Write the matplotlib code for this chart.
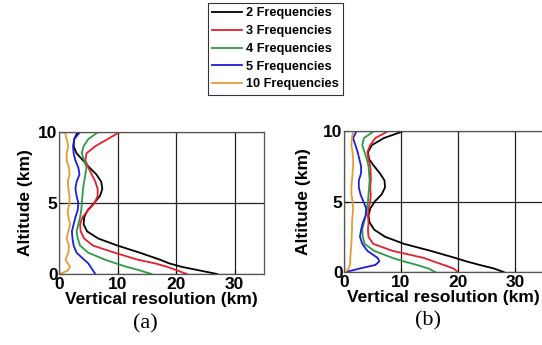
import numpy as np
import matplotlib.pyplot as plt

plt.rcParams['font.family'] = ['Liberation Sans', 'DejaVu Sans']

# altitude levels (km) shared by all curves
altitude = [0, 0.25, 0.5, 0.75, 1, 1.5, 2, 2.5, 3, 3.5, 4, 4.5, 5,
            5.5, 6, 6.5, 7, 7.5, 8, 8.5, 9, 9.5, 10]

labels = ['2 Frequencies', '3 Frequencies', '4 Frequencies',
          '5 Frequencies', '10 Frequencies']
colors = ['#000000', '#e3202b', '#2e9a45', '#1c1ed8', '#e69a3a']

# panel (a) vertical resolution (km)
a_2f = [27, 24, 21, 18.8, 17.3, 13.8, 10.0, 6.7, 4.8, 4.2, 4.3, 4.9, 6.0,
        7.0, 7.4, 7.2, 6.4, 5.2, 4.1, 3.0, 2.5, 2.6, 3.2]
a_3f = [21.8, 20.2, 18.5, 16.4, 13.5, 9.5, 5.8, 4.3, 3.7, 3.6, 4.0, 5.0, 6.1,
        6.6, 6.6, 6.2, 5.6, 5.0, 4.5, 4.7, 6.2, 8.3, 10.4]
a_4f = [15.8, 13.8, 11.6, 9.7, 7.9, 5.0, 3.6, 3.2, 3.0, 3.3, 3.6, 3.8, 3.9,
        4.0, 4.1, 4.3, 4.5, 4.7, 4.3, 3.9, 4.2, 5.0, 6.7]
a_5f = [6.2, 5.8, 5.4, 5.0, 4.3, 3.0, 2.5, 2.3, 2.2, 2.5, 2.8, 3.2, 3.3,
        3.0, 2.8, 3.0, 3.5, 3.3, 2.8, 2.5, 2.4, 2.6, 3.6]
a_10f = [0.2, 1.5, 1.9, 1.5, 1.1, 1.6, 1.7, 1.3, 1.6, 1.9, 1.6, 1.5, 1.8,
         1.8, 1.6, 1.5, 1.8, 1.7, 1.3, 1.3, 1.6, 1.3, 1.0]

# panel (b) vertical resolution (km)
b_2f = [28, 26.3, 23.8, 21.5, 19.5, 15.2, 10.5, 7.2, 5.3, 4.5, 4.3, 4.6, 5.4,
        6.6, 7.2, 7.1, 6.3, 5.3, 4.4, 4.2, 4.9, 7.0, 10.5]
b_3f = [20, 19.2, 17.5, 15.7, 14.0, 8.5, 5.1, 4.3, 4.2, 4.3, 4.2, 4.3, 4.6,
        4.7, 4.6, 4.7, 4.7, 4.6, 4.3, 4.1, 4.6, 5.5, 7.8]
b_4f = [16, 14.8, 12.8, 10.5, 8.5, 5.3, 3.6, 3.3, 3.2, 3.5, 3.8, 4.0, 4.2,
        4.3, 4.4, 4.5, 4.4, 4.3, 4.0, 3.6, 3.2, 3.5, 5.3]
b_5f = [0.3, 2.8, 5.5, 6.2, 5.9, 4.1, 3.2, 2.8, 3.0, 3.3, 3.8, 3.9, 3.4,
        2.9, 2.6, 2.6, 3.0, 3.0, 2.7, 2.4, 2.0, 1.6, 2.2]
b_10f = [0.3, 0.8, 1.05, 1.1, 1.1, 1.2, 1.3, 1.35, 1.4, 1.4, 1.5, 1.6, 1.5,
         1.3, 1.3, 1.4, 1.5, 1.6, 1.6, 1.5, 1.3, 1.4, 1.6]

panels = [
    ('(a)', [a_2f, a_3f, a_4f, a_5f, a_10f], [59 / 542, 71 / 345, 205 / 542, 142 / 345], 4),
    ('(b)', [b_2f, b_3f, b_4f, b_5f, b_10f], [344 / 542, 73 / 345, 199.5 / 542, 141 / 345], 9),
]

fig = plt.figure(figsize=(5.42, 3.45), dpi=100)

handles = []
for tag, series, rect, ypad in panels:
    ax = fig.add_axes(rect)
    handles = []
    for vals, col, lab in zip(series, colors, labels):
        h, = ax.plot(vals, altitude, color=col, lw=1.3, label=lab)
        handles.append(h)
    ax.set_xlim(0, 35)
    ax.set_ylim(0, 10)
    ax.set_xticks([0, 10, 20, 30])
    ax.set_yticks([0, 5, 10])
    ax.grid(True, color='#222222', lw=0.9)
    ax.set_axisbelow(True)
    for s in ax.spines.values():
        s.set_color('#555555')
        s.set_linewidth(0.9)
    ax.tick_params(direction='in', length=3, width=0.8, pad=1,
                   labelsize=12.5)
    ax.tick_params(axis='x', pad=2.5)
    for t in ax.get_xticklabels() + ax.get_yticklabels():
        t.set_fontweight('bold')
    ax.set_xlabel('Vertical resolution (km)', fontsize=12.5,
                  fontweight='bold', labelpad=0)
    ax.set_ylabel('Altitude (km)', fontsize=12.5, fontweight='bold',
                  labelpad=ypad)
    ax.text(0.42, -0.28, tag, transform=ax.transAxes, ha='center', va='top',
            fontsize=16, family='Liberation Serif')

leg = fig.legend(handles=handles, loc='upper left',
                 bbox_to_anchor=(208 / 542, 1 - 3 / 345),
                 prop={'size': 9.2, 'weight': 'bold'}, frameon=True,
                 fancybox=False, handlelength=2.3, handletextpad=0.3,
                 labelspacing=0.45, borderpad=0.35, borderaxespad=0)
leg.get_frame().set_edgecolor('black')
leg.get_frame().set_linewidth(0.8)

fig.savefig('out.png', dpi=100)
